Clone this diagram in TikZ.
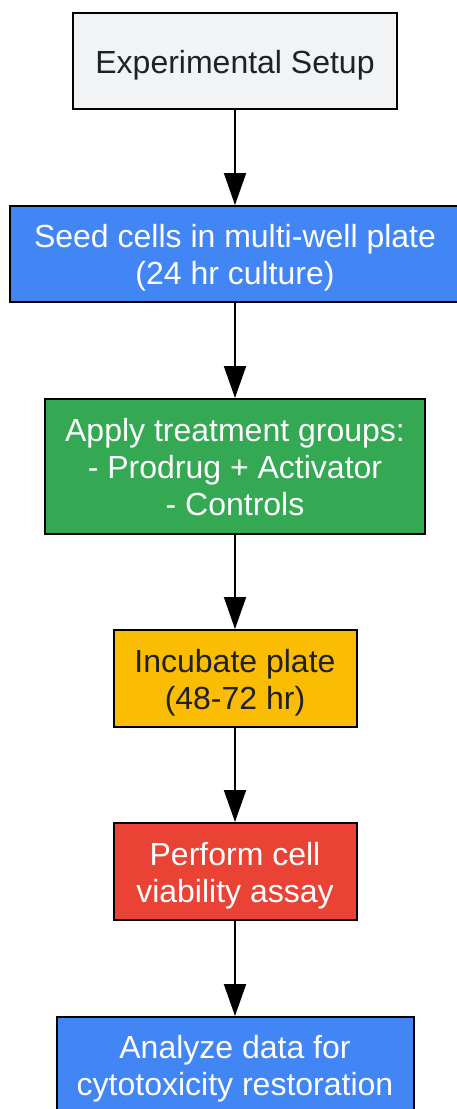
\documentclass[tikz,border=0pt]{standalone}
\usepackage{fontspec}
\setmainfont{Liberation Sans}
\usetikzlibrary{arrows.meta}
\definecolor{cgray}{HTML}{F1F3F4}
\definecolor{cblue}{HTML}{4285F4}
\definecolor{cgreen}{HTML}{34A853}
\definecolor{cyellow}{HTML}{FBBC04}
\definecolor{cred}{HTML}{EA4335}
\definecolor{cdark}{HTML}{202124}
\begin{document}
\begin{tikzpicture}[x=1pt,y=-1pt,
  box/.style={draw=black, line width=2pt, rectangle, inner sep=0pt},
  txt/.style={inner sep=0pt, align=center, font=\fontsize{32}{37}\selectfont},
  darktext/.style={txt, text=cdark},
  lighttext/.style={txt, text=white},
  conn/.style={line width=2pt, -{Triangle[width=22pt,length=32pt]}, shorten >=0pt}
]
\clip (0,0) rectangle (457,1109);
\node[box, fill=cgray, minimum width=324pt, minimum height=96pt] (n1) at (235,61) {};
\node[box, fill=cblue, minimum width=450pt, minimum height=96pt] (n2) at (235,254) {};
\node[box, fill=cgreen, minimum width=380pt, minimum height=135pt] (n3) at (235,466.5) {};
\node[box, fill=cyellow, minimum width=243pt, minimum height=97pt] (n4) at (235,678.5) {};
\node[box, fill=cred, minimum width=243pt, minimum height=97pt] (n5) at (235,871.5) {};
\node[box, fill=cblue, minimum width=357pt, minimum height=96pt] (n6) at (235,1065) {};
\node[darktext] (t1) at ([yshift=-4pt]n1.center) {Experimental Setup};
\node[lighttext] (t2) at ([yshift=-4pt]n2.center) {Seed cells in multi-well plate\\(24 hr culture)};
\node[lighttext] (t3) at ([yshift=-0.5pt]n3.center) {Apply treatment groups:\\- Prodrug + Activator\\- Controls};
\node[darktext] (t4) at ([yshift=-4pt]n4.center) {Incubate plate\\(48-72 hr)};
\node[lighttext] (t5) at ([yshift=-4pt]n5.center) {Perform cell\\viability assay};
\node[lighttext] (t6) at ([yshift=-4pt]n6.center) {Analyze data for\\cytotoxicity restoration};
\draw[conn] (n1) -- (n2);
\draw[conn] (n2) -- (n3);
\draw[conn] (n3) -- (n4);
\draw[conn] (n4) -- (n5);
\draw[conn] (n5) -- (n6);
\end{tikzpicture}
\end{document}
